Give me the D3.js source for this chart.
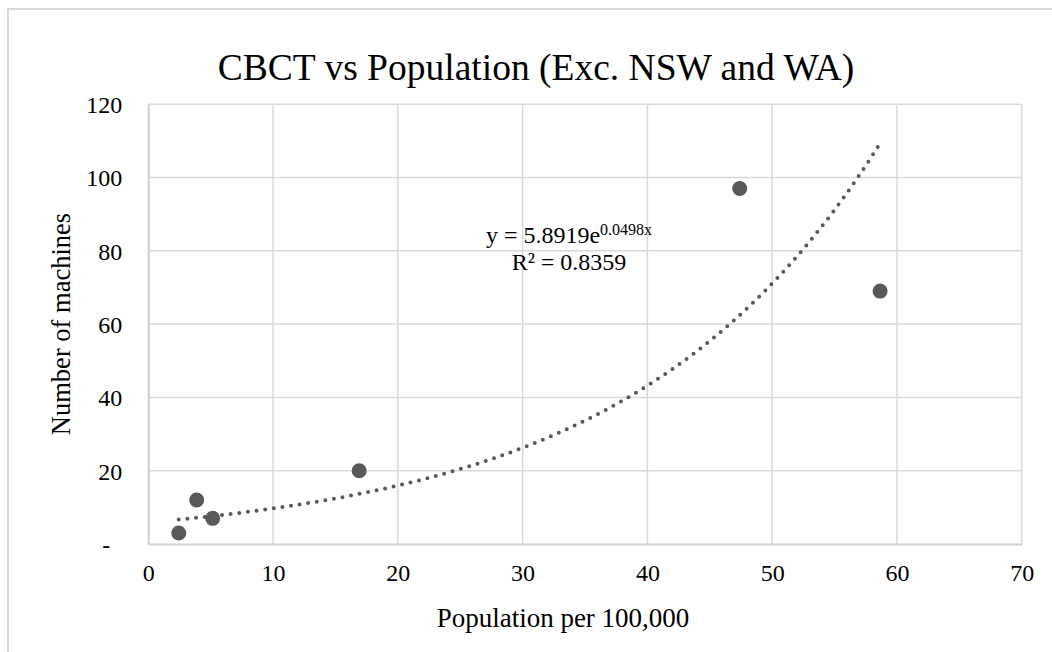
<!DOCTYPE html>
<html>
<head>
<meta charset="utf-8">
<script src="https://cdn.jsdelivr.net/npm/d3@7"></script>
<style>
  html, body { margin: 0; padding: 0; background: #fff; }
  svg { display: block; }
  svg text { font-family: "Liberation Serif", "Times New Roman", serif; fill: #000; }
</style>
</head>
<body>
<svg id="chart" width="1052" height="652"></svg>
<script>
// Population (per 100,000) against number of CBCT machines, by state
const population = [2.44, 3.88, 5.16, 16.9, 47.4, 58.65];
const machines   = [3, 12, 7, 20, 97, 69];

// Axis ticks
const xTicks = [0, 10, 20, 30, 40, 50, 60, 70];
const yTicks = [0, 20, 40, 60, 80, 100, 120];

// Exponential trendline coefficients: y = a * e^(b x)
const trendA = 5.8919;
const trendB = 0.0498;
const trendR2 = 0.8359;

const svg = d3.select("#chart");
const W = 1052, H = 652;

// Chart frame (open on the right and bottom edges)
svg.append("path")
  .attr("d", `M8,${H + 5} L8,9 L${W + 5},9`)
  .attr("fill", "none")
  .attr("stroke", "#d9d9d9")
  .attr("stroke-width", 2);

const plot = { left: 148.3, right: 1021.7, top: 104.2, bottom: 544 };

const x = d3.scaleLinear().domain([0, 70]).range([plot.left, plot.right]);
const y = d3.scaleLinear().domain([0, 120]).range([plot.bottom, plot.top]);

// Gridlines
const grid = svg.append("g").attr("stroke", "#d9d9d9").attr("stroke-width", 1.5);
grid.selectAll("line.v").data(xTicks.filter(d => d > 0)).join("line")
  .attr("x1", d => x(d)).attr("x2", d => x(d))
  .attr("y1", y(120)).attr("y2", y(0));
grid.selectAll("line.h").data(yTicks.filter(d => d > 0)).join("line")
  .attr("x1", x(0)).attr("x2", x(70))
  .attr("y1", d => y(d)).attr("y2", d => y(d));

// Axes
const xAxis = svg.append("g")
  .attr("transform", `translate(0,${plot.bottom})`)
  .call(d3.axisBottom(x).tickValues(xTicks).tickSize(0).tickPadding(0).tickFormat(d3.format("d")));
xAxis.attr("font-family", null).attr("font-size", null);
xAxis.select(".domain").attr("stroke", "#cfcfcf").attr("stroke-width", 2);
xAxis.selectAll("text")
  .attr("y", 37).attr("dy", null)
  .style("font-size", "24px");

const yAxis = svg.append("g")
  .attr("transform", `translate(${plot.left},0)`)
  .call(d3.axisLeft(y).tickValues(yTicks).tickSize(0).tickPadding(0)
    .tickFormat(d => d === 0 ? "-" : d3.format("d")(d)));
yAxis.attr("font-family", null).attr("font-size", null);
yAxis.select(".domain").attr("stroke", "#cfcfcf").attr("stroke-width", 2);
yAxis.selectAll("text")
  .attr("x", d => d === 0 ? -38 : -26).attr("dy", "0.35em")
  .style("font-size", "24px");

// Trendline (dotted), spanning the observed population range
const xMin = d3.min(population), xMax = d3.max(population);
const tx = d3.range(0, 201).map(i => xMin + (xMax - xMin) * i / 200);
const line = d3.line().x(d => x(d)).y(d => y(trendA * Math.exp(trendB * d)));
svg.append("path")
  .datum(tx)
  .attr("d", line)
  .attr("fill", "none")
  .attr("stroke", "#595959")
  .attr("stroke-width", 4)
  .attr("stroke-linecap", "round")
  .attr("stroke-dasharray", "0 8.7");

// Data points
svg.append("g").selectAll("circle")
  .data(population.map((p, i) => ({ p, m: machines[i] })))
  .join("circle")
  .attr("cx", d => x(d.p))
  .attr("cy", d => y(d.m))
  .attr("r", 7.5)
  .attr("fill", "#595959");

// Trendline equation label
const eq = svg.append("text")
  .attr("x", 569).attr("y", 243)
  .attr("text-anchor", "middle")
  .style("font-size", "24px");
eq.append("tspan").text(`y = ${trendA}e`);
eq.append("tspan").style("font-size", "16px").attr("dy", -8).text(`${trendB}x`);
svg.append("text")
  .attr("x", 569).attr("y", 270)
  .attr("text-anchor", "middle")
  .style("font-size", "24px")
  .text(`R² = ${trendR2}`);

// Title
svg.append("text")
  .attr("x", 536).attr("y", 80)
  .attr("text-anchor", "middle")
  .style("font-size", "37.5px")
  .text("CBCT vs Population (Exc. NSW and WA)");

// Axis titles
svg.append("text")
  .attr("x", 563).attr("y", 627)
  .attr("text-anchor", "middle")
  .style("font-size", "27px")
  .text("Population per 100,000");

svg.append("text")
  .attr("transform", "translate(70,324) rotate(-90)")
  .attr("text-anchor", "middle")
  .style("font-size", "26.5px")
  .text("Number of machines");
</script>
</body>
</html>
